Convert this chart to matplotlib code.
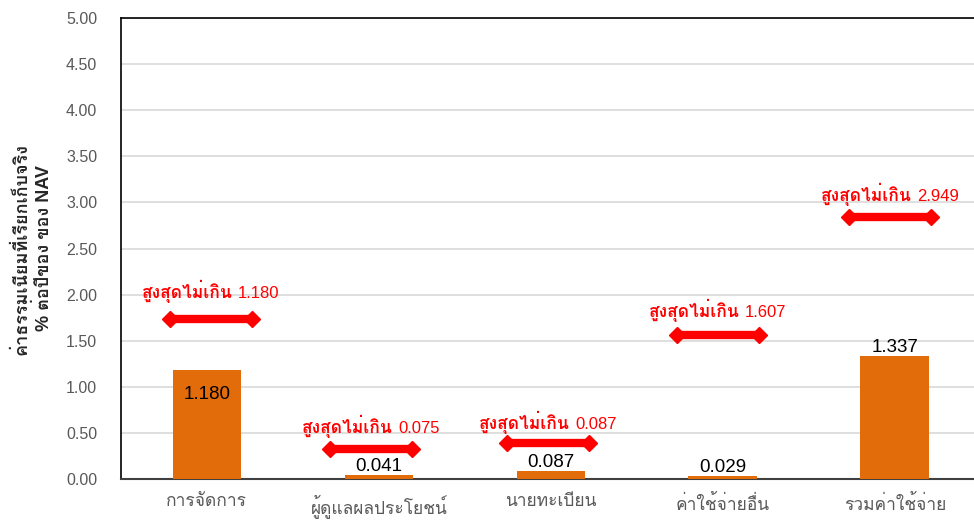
import matplotlib
matplotlib.use("Agg")
import matplotlib.pyplot as plt

# data
categories = ["การจัดการ", "ผู้ดูแลผลประโยชน์", "นายทะเบียน", "ค่าใช้จ่ายอื่น", "รวมค่าใช้จ่าย"]
actual_fee = [1.180, 0.041, 0.087, 0.029, 1.337]
max_fee = [1.180, 0.075, 0.087, 1.607, 2.949]
# height where each "max" marker is drawn in the chart
marker_level = [1.74, 0.33, 0.39, 1.56, 2.84]
yticks = [0.0, 0.5, 1.0, 1.5, 2.0, 2.5, 3.0, 3.5, 4.0, 4.5, 5.0]

# small layout nudges (pixels) for the markers / captions
marker_dx = [4, -8, -3, -5, -5]
caption_dy = [21, 16, 14, 18, 16]

FONT = ["Liberation Sans", "Loma", "Noto Sans Thai Looped", "DejaVu Sans"]
THAI = ["Loma", "Noto Sans Thai Looped", "DejaVu Sans"]
plt.rcParams["font.family"] = FONT

fig = plt.figure(figsize=(9.74, 5.25), dpi=100)
ax = fig.add_axes([0.1242, 0.0876, 0.8828, 0.878])

x = list(range(len(categories)))
ax.bar(x, actual_fee, width=0.4, color="#E36C0A", zorder=3)

for i, v in enumerate(actual_fee):
    if i == 0:
        ax.annotate(f"{v:.3f}", (i, v), xytext=(0, -16), textcoords="offset pixels",
                    ha="center", va="top", fontsize=13.5, color="black", zorder=4)
    else:
        ax.annotate(f"{v:.3f}", (i, v), xytext=(0, 0), textcoords="offset pixels",
                    ha="center", va="bottom", fontsize=13.5, color="black", zorder=4)

ax.set_xlim(-0.5, len(categories) - 0.5)
ax.set_ylim(0, 5)
renderer = fig.canvas.get_renderer()
px_per_unit = ax.transData.transform((1, 0))[0] - ax.transData.transform((0, 0))[0]

for i, (m, lvl) in enumerate(zip(max_fee, marker_level)):
    xc = i + marker_dx[i] / px_per_unit
    ax.plot([xc - 0.24, xc + 0.24], [lvl, lvl], color="red", lw=6,
            solid_capstyle="butt", zorder=5)
    ax.plot([xc - 0.24, xc + 0.24], [lvl, lvl], ls="none", marker="D",
            ms=8, color="red", zorder=5)
    # caption: bold thai words + regular number
    t1 = ax.annotate("สูงสุดไม่เกิน", (xc, lvl), xytext=(0, caption_dy[i]),
                     textcoords="offset pixels", ha="left", va="baseline",
                     fontsize=12.5, color="red", fontweight="bold", family=THAI, zorder=6)
    t2 = ax.annotate(f"{m:.3f}", (xc, lvl), xytext=(0, caption_dy[i]),
                     textcoords="offset pixels", ha="left", va="baseline",
                     fontsize=12, color="red", zorder=6)
    w1 = t1.get_window_extent(renderer).width
    w2 = t2.get_window_extent(renderer).width
    gap = 5
    total = w1 + gap + w2
    t1.set_position((-total / 2, caption_dy[i]))
    t2.set_position((-total / 2 + w1 + gap, caption_dy[i]))

ax.set_yticks(yticks)
ax.set_yticklabels([f"{t:.2f}" for t in yticks])
ax.set_xticks(x)
ax.set_xticklabels(categories)
ax.tick_params(axis="y", length=0, pad=17, labelsize=11.5, labelcolor="#595959")
ax.tick_params(axis="x", length=0, pad=11, labelsize=12.5, labelcolor="#595959")
ax.grid(axis="y", color="#d9d9d9", lw=1.2, zorder=0)
for s in ["left", "top", "right"]:
    ax.spines[s].set_color("black")
    ax.spines[s].set_linewidth(1.2)
ax.spines["bottom"].set_color("#404040")
ax.spines["bottom"].set_linewidth(1.5)

ax.set_ylabel("ค่าธรรมเนียมที่เรียกเก็บจริง\n% ต่อปีของ ของ NAV", fontsize=13,
              fontweight="bold", color="#262626", linespacing=1.3)
ax.yaxis.set_label_coords(-0.079, 0.5)

fig.savefig("out.png", dpi=100)
